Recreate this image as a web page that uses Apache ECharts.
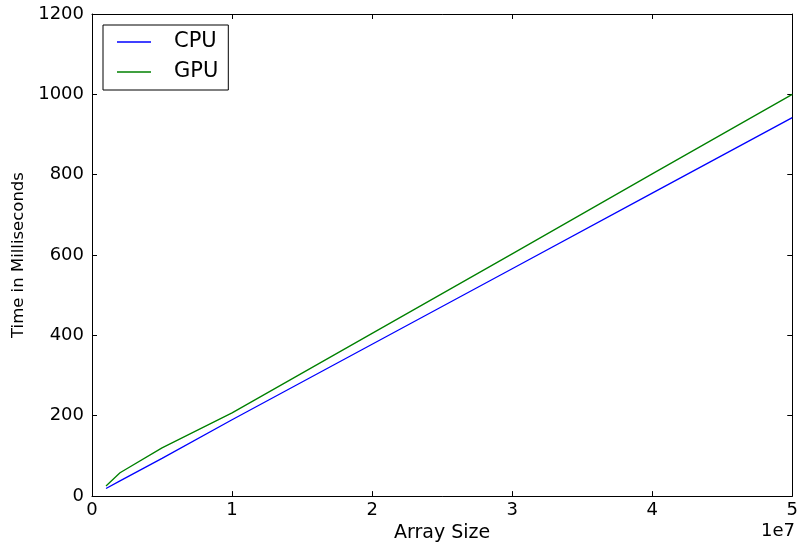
<!DOCTYPE html>
<html><head><meta charset="utf-8">
<script src="https://cdn.jsdelivr.net/npm/echarts@6/dist/echarts.min.js"></script>
<style>html,body{margin:0;padding:0;background:#fff}#c{width:801px;height:548px}</style>
</head><body><div id="c"></div>
<script>
const arraySizes = [1e6, 2e6, 5e6, 1e7, 2e7, 3e7, 4e7, 5e7];
const cpuTimes = [19, 38, 94, 190, 378, 566, 754, 942];
const gpuTimes = [25, 58, 120, 207, 405, 603, 802, 1000];
const seriesNames = ['CPU', 'GPU'];
const xLabel = 'Array Size';
const yLabel = 'Time in Milliseconds';
const xExponent = '1e7';

const font = 'DejaVu Sans';
const chart = echarts.init(document.getElementById('c'), null, {renderer: 'canvas'});
const axisCommon = {
  axisLine: {show: true, onZero: false, lineStyle: {color: '#000', width: 1}},
  axisTick: {show: true, inside: true, length: 5, lineStyle: {color: '#000'}},
  splitLine: {show: false}
};
chart.setOption({
  animation: false,
  backgroundColor: '#fff',
  grid: {left: 92, right: 7, top: 14, bottom: 50, containLabel: false},
  legend: {
    orient: 'vertical', left: 103, top: 25,
    data: seriesNames,
    icon: 'rect',
    itemWidth: 34, itemHeight: 1.5, itemGap: 8,
    padding: [6, 10, 7, 14],
    borderColor: '#000', borderWidth: 1, backgroundColor: '#fff',
    textStyle: {fontFamily: font, fontSize: 21, color: '#000', lineHeight: 22, padding: [0, 0, 0, 18]}
  },
  xAxis: [
    Object.assign({}, axisCommon, {
      type: 'value', min: 0, max: 5e7, interval: 1e7, position: 'bottom',
      name: xLabel, nameLocation: 'middle', nameGap: 27,
      nameTextStyle: {fontFamily: font, fontSize: 19, color: '#000'},
      axisLabel: {fontFamily: font, fontSize: 18, color: '#000', margin: 5,
        formatter: v => String(Math.round(v / 1e7))}
    }),
    Object.assign({}, axisCommon, {
      type: 'value', min: 0, max: 5e7, interval: 1e7, position: 'top',
      axisLabel: {show: false}
    })
  ],
  yAxis: [
    Object.assign({}, axisCommon, {
      type: 'value', min: 0, max: 1200, interval: 200, position: 'left',
      name: yLabel, nameLocation: 'middle', nameGap: 61, nameRotate: 90,
      nameTextStyle: {fontFamily: font, fontSize: 16.5, color: '#000'},
      axisLabel: {fontFamily: font, fontSize: 18, color: '#000', margin: 8,
        formatter: v => String(v)}
    }),
    Object.assign({}, axisCommon, {
      type: 'value', min: 0, max: 1200, interval: 200, position: 'right',
      axisLabel: {show: false}
    })
  ],
  graphic: [{
    type: 'text', right: 6, top: 522,
    style: {text: xExponent, font: '18px "DejaVu Sans"', fill: '#000'}
  }],
  series: [
    {name: seriesNames[0], type: 'line', symbol: 'none', color: '#0000ff',
     lineStyle: {color: '#0000ff', width: 1.3},
     data: arraySizes.map((x, i) => [x, cpuTimes[i]])},
    {name: seriesNames[1], type: 'line', symbol: 'none', color: '#008000',
     lineStyle: {color: '#008000', width: 1.3},
     data: arraySizes.map((x, i) => [x, gpuTimes[i]])}
  ]
});
</script></body></html>
